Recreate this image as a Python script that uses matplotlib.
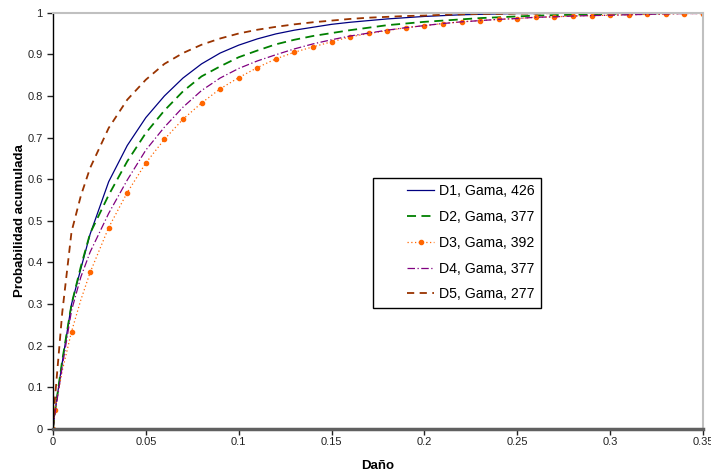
import matplotlib
matplotlib.use("Agg")
import matplotlib.pyplot as plt
from matplotlib.legend_handler import HandlerLine2D

plt.rcParams['font.family'] = ['Liberation Sans', 'DejaVu Sans']

# daño (x) values
dano = [0, 0.001, 0.005, 0.01, 0.015, 0.02, 0.03, 0.04, 0.05, 0.06, 0.07, 0.08,
        0.09, 0.10, 0.11, 0.12, 0.13, 0.14, 0.15, 0.16, 0.17, 0.18, 0.19, 0.20,
        0.21, 0.22, 0.23, 0.24, 0.25, 0.26, 0.27, 0.28, 0.29, 0.30, 0.31, 0.32,
        0.33, 0.34, 0.35]

d1 = [0, 0.04, 0.16, 0.30, 0.385, 0.468, 0.594, 0.681, 0.748, 0.800, 0.843, 0.877,
      0.903, 0.922, 0.937, 0.949, 0.958, 0.965, 0.972, 0.977, 0.981, 0.985, 0.988, 0.991,
      0.993, 0.995, 0.996, 0.997, 0.998, 0.998, 0.999, 0.999, 0.999, 1.0, 1.0, 1.0,
      1.0, 1.0, 1.0]
d2 = [0, 0.04, 0.165, 0.30, 0.39, 0.47, 0.562, 0.643, 0.711, 0.765, 0.811, 0.847,
      0.871, 0.893, 0.909, 0.924, 0.935, 0.944, 0.951, 0.958, 0.964, 0.970, 0.974, 0.978,
      0.981, 0.984, 0.987, 0.989, 0.991, 0.993, 0.994, 0.995, 0.996, 0.997, 0.998, 0.998,
      0.999, 0.999, 1.0]
d3 = [0, 0.045, 0.14, 0.234, 0.31, 0.376, 0.484, 0.568, 0.639, 0.696, 0.744, 0.783,
      0.817, 0.844, 0.868, 0.889, 0.905, 0.918, 0.930, 0.942, 0.950, 0.957, 0.964, 0.969,
      0.974, 0.978, 0.981, 0.984, 0.986, 0.989, 0.990, 0.992, 0.993, 0.994, 0.995, 0.996,
      0.997, 0.998, 0.998]
d4 = [0, 0.035, 0.15, 0.285, 0.365, 0.425, 0.518, 0.598, 0.670, 0.725, 0.773, 0.813,
      0.843, 0.866, 0.884, 0.899, 0.913, 0.925, 0.935, 0.944, 0.951, 0.958, 0.964, 0.969,
      0.974, 0.978, 0.981, 0.984, 0.986, 0.989, 0.990, 0.992, 0.993, 0.994, 0.995, 0.996,
      0.997, 0.998, 0.998]
d5 = [0, 0.07, 0.28, 0.474, 0.56, 0.627, 0.723, 0.791, 0.839, 0.877, 0.903, 0.923,
      0.938, 0.950, 0.959, 0.966, 0.972, 0.977, 0.981, 0.985, 0.988, 0.990, 0.992, 0.993,
      0.995, 0.996, 0.997, 0.997, 0.998, 0.998, 0.999, 0.999, 0.999, 1.0, 1.0, 1.0,
      1.0, 1.0, 1.0]

labels = ["D1, Gama, 426", "D2, Gama, 377", "D3, Gama, 392", "D4, Gama, 377", "D5, Gama, 277"]
x_ticks = [0, 0.05, 0.1, 0.15, 0.2, 0.25, 0.3, 0.35]
x_ticklabels = ["0", "0.05", "0.1", "0.15", "0.2", "0.25", "0.3", "0.35"]
y_ticks = [0, 0.1, 0.2, 0.3, 0.4, 0.5, 0.6, 0.7, 0.8, 0.9, 1]
y_ticklabels = ["0", "0.1", "0.2", "0.3", "0.4", "0.5", "0.6", "0.7", "0.8", "0.9", "1"]


# legend line only on the right part of the handle box (as in Excel)
class RightHandler(HandlerLine2D):
    def get_xdata(self, legend, xdescent, ydescent, width, height, fontsize):
        x0 = -xdescent + 0.5 * width
        x1 = -xdescent + width
        return [x0, x1], [0.5 * (x0 + x1)]


fig = plt.figure(figsize=(7.11, 4.75), dpi=100)
ax = fig.add_axes([0.0745, 0.0968, 0.9142, 0.8765])

marks = [i for i, v in enumerate(dano) if i not in (2, 4)]

ax.plot(dano, d1, color='#000080', lw=0.9, ls='-', label=labels[0])
ax.plot(dano, d2, color='#008000', lw=1.3, ls=(0, (5, 3)), label=labels[1])
ax.plot(dano, d3, color='#FF6600', lw=0.9, ls=(0, (1, 2)), marker='o', ms=3,
        markevery=marks, label=labels[2])
ax.plot(dano, d4, color='#800080', lw=0.9, ls=(0, (6, 2, 1, 2)), label=labels[3])
ax.plot(dano, d5, color='#993300', lw=1.3, ls=(0, (4, 3)), label=labels[4])

ax.set_xlim(0, 0.35)
ax.set_ylim(0, 1)
ax.set_xticks(x_ticks)
ax.set_xticklabels(x_ticklabels)
ax.set_yticks(y_ticks)
ax.set_yticklabels(y_ticklabels)
ax.tick_params(labelsize=8, length=4, width=1, colors='#222222')
ax.tick_params(axis='x', pad=2)

for s in ['top', 'right']:
    ax.spines[s].set_color('#c0c0c0')
    ax.spines[s].set_linewidth(1.5)
ax.spines['bottom'].set_color('#606060')
ax.spines['bottom'].set_linewidth(2.5)
ax.spines['left'].set_color('black')
ax.spines['left'].set_linewidth(1)

ax.set_xlabel("Daño", fontsize=9.5, fontweight='bold', labelpad=9)
ax.set_ylabel("Probabilidad acumulada", fontsize=9.5, fontweight='bold', labelpad=0.5)

leg = ax.legend(loc='upper left', bbox_to_anchor=(0.492, 0.603), fontsize=10.2,
                frameon=True, fancybox=False, edgecolor='black', framealpha=1,
                handlelength=3.9, labelspacing=0.83, borderpad=0.45, handletextpad=0.3,
                borderaxespad=0, handler_map={plt.Line2D: RightHandler()})
leg.get_frame().set_linewidth(1)

fig.savefig("out.png", dpi=100)
